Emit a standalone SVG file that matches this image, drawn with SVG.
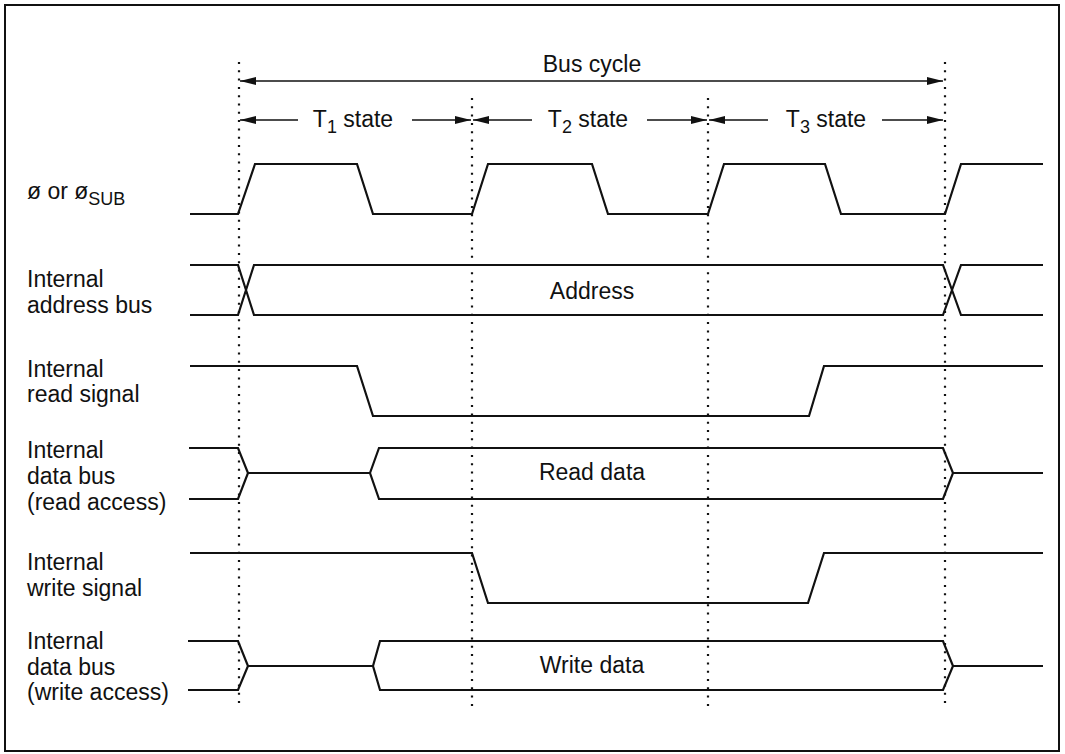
<svg xmlns="http://www.w3.org/2000/svg" width="1065" height="754" viewBox="0 0 1065 754">
<style>
.w{fill:none;stroke:#111;stroke-width:2.2;stroke-linejoin:miter}
.dot{fill:none;stroke:#111;stroke-width:2.2;stroke-dasharray:2 6.3}
.dim{fill:none;stroke:#111;stroke-width:1.6}
text{font-family:"Liberation Sans",Arial,sans-serif;font-size:23px;fill:#111}
.c{text-anchor:middle}
</style>
<defs>
<marker id="ah" viewBox="0 0 16 8" refX="16" refY="4" markerWidth="16" markerHeight="8" markerUnits="userSpaceOnUse" orient="auto-start-reverse">
<path d="M0 0 L16 4 L0 8 Z" fill="#111"/>
</marker>
</defs>
<rect x="0" y="0" width="1065" height="754" fill="#fff"/>
<rect x="5" y="5" width="1054" height="746" fill="none" stroke="#111" stroke-width="2"/>

<g id="connectors">
<line class="dot" x1="239" y1="62" x2="239" y2="708"/>
<line class="dot" x1="472" y1="98" x2="472" y2="708"/>
<line class="dot" x1="708" y1="98" x2="708" y2="708"/>
<line class="dot" x1="945" y1="62" x2="945" y2="708"/>
<line class="dim" x1="240" y1="81" x2="943" y2="81" marker-start="url(#ah)" marker-end="url(#ah)"/>
<line class="dim" x1="240" y1="120" x2="298" y2="120" marker-start="url(#ah)"/>
<line class="dim" x1="412" y1="120" x2="471" y2="120" marker-end="url(#ah)"/>
<line class="dim" x1="473" y1="120" x2="532" y2="120" marker-start="url(#ah)"/>
<line class="dim" x1="647" y1="120" x2="707" y2="120" marker-end="url(#ah)"/>
<line class="dim" x1="709" y1="120" x2="768" y2="120" marker-start="url(#ah)"/>
<line class="dim" x1="882" y1="120" x2="943" y2="120" marker-end="url(#ah)"/>
</g>

<g id="timing-labels">
<text class="c" x="592" y="72">Bus cycle</text>
<text class="c" x="353" y="127">T<tspan font-size="18" dy="6">1</tspan><tspan dy="-6"> state</tspan></text>
<text class="c" x="588" y="127">T<tspan font-size="18" dy="6">2</tspan><tspan dy="-6"> state</tspan></text>
<text class="c" x="826" y="127">T<tspan font-size="18" dy="6">3</tspan><tspan dy="-6"> state</tspan></text>
</g>

<g id="clock">
<text x="27" y="199">ø or ø<tspan font-size="18" dy="6">SUB</tspan></text>
<path class="w" d="M190 214 H238 L255 164 H357 L373 214 H472 L488 164 H592 L608 214 H708 L724 164 H825 L841 214 H945 L961 164 H1043"/>
</g>

<g id="address-bus">
<text x="27" y="287">Internal</text>
<text x="27" y="313">address bus</text>
<path class="w" d="M190 265 H238 L254 315 H943 L961 265 H1043 M190 315 H238 L254 265 H943 L961 315 H1043"/>
<text class="c" x="592" y="299">Address</text>
</g>

<g id="read-signal">
<text x="27" y="377">Internal</text>
<text x="27" y="402">read signal</text>
<path class="w" d="M190 366 H357 L373 416 H809 L824 366 H1043"/>
</g>

<g id="read-data-bus">
<text x="27" y="458">Internal</text>
<text x="27" y="484">data bus</text>
<text x="27" y="510">(read access)</text>
<path class="w" d="M189 448 H238 L248 473 L238 499 H189 M248 473 H370 M370 473 L379 448 H943 L953 473 L943 499 H379 Z M953 473 H1043"/>
<text class="c" x="592" y="480">Read data</text>
</g>

<g id="write-signal">
<text x="27" y="570">Internal</text>
<text x="27" y="596">write signal</text>
<path class="w" d="M190 553 H472 L488 603 H808 L824 553 H1043"/>
</g>

<g id="write-data-bus">
<text x="27" y="649">Internal</text>
<text x="27" y="675">data bus</text>
<text x="27" y="700">(write access)</text>
<path class="w" d="M188 641 H238 L248 666 L238 690 H188 M248 666 H373 M373 666 L380 641 H943 L953 666 L943 690 H380 Z M953 666 H1043"/>
<text class="c" x="592" y="673">Write data</text>
</g>
</svg>
